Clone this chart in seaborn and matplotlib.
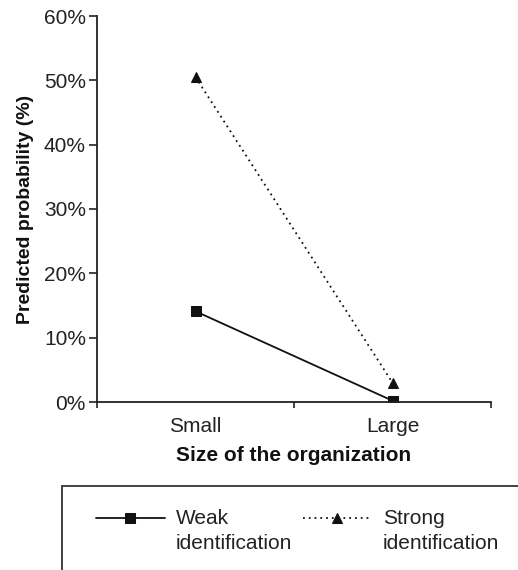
import matplotlib
matplotlib.use("Agg")
import matplotlib.pyplot as plt
from matplotlib.lines import Line2D
from matplotlib.legend_handler import HandlerLine2D
from matplotlib.patches import Rectangle
from matplotlib.ticker import FixedLocator, PercentFormatter
import numpy as np
import seaborn as sns
import pandas as pd

# data
sizes = ["Small", "Large"]
weak = [14.1, 0.2]
strong = [50.5, 3.0]
series_names = ["Weak\nidentification", "Strong\nidentification"]
y_ticks = [0, 10, 20, 30, 40, 50, 60]

df = pd.DataFrame({
    "size": sizes * 2,
    "prob": weak + strong,
    "group": [series_names[0]] * 2 + [series_names[1]] * 2,
})


class FirstLineHandler(HandlerLine2D):
    """Legend handle level with the first line of a two-line label."""
    def create_artists(self, legend, orig_handle, xdescent, ydescent, width, height, fontsize, trans):
        artists = super().create_artists(legend, orig_handle, xdescent, ydescent,
                                         width, height, fontsize, trans)
        for a in artists:
            a.set_ydata(np.asarray(a.get_ydata()) + 0.62 * fontsize)
        return artists


sns.set_style("white")
plt.rcParams["font.family"] = ["Liberation Sans", "DejaVu Sans"]

fig = plt.figure(figsize=(5.18, 5.70), dpi=100)
ax = fig.add_axes([97 / 518, 1 - 402 / 570, (491 - 97) / 518, (402 - 16) / 570])

sns.lineplot(
    data=df, x="size", y="prob", hue="group", style="group", sort=False,
    palette=["#111111", "#111111"],
    markers={series_names[0]: "s", series_names[1]: "^"},
    dashes={series_names[0]: "", series_names[1]: (1, 2.2)},
    markersize=7, linewidth=1.3, markeredgecolor="#111111",
    ax=ax, legend=True,
)

ax.set_xlim(-0.5, 1.5)
ax.set_ylim(0, 60)
ax.yaxis.set_major_locator(FixedLocator(y_ticks))
ax.yaxis.set_major_formatter(PercentFormatter(decimals=0))

# ticks at category boundaries, labels centred
ax.set_xticks([-0.5, 0.5, 1.5])
ax.set_xticklabels([])
ax.set_xticks([0, 1], minor=True)
ax.set_xticklabels(sizes, minor=True)
ax.tick_params(axis="x", which="major", direction="out", length=4, width=1.2, color="#222222", bottom=True)
ax.tick_params(axis="x", which="minor", length=0, labelsize=15, pad=11, labelcolor="#222222")
ax.tick_params(axis="y", direction="out", length=6, width=1.2, color="#222222", left=True,
               labelsize=15, labelcolor="#222222", pad=2)

for side in ["top", "right"]:
    ax.spines[side].set_visible(False)
for side in ["left", "bottom"]:
    ax.spines[side].set_color("#222222")
    ax.spines[side].set_linewidth(1.3)

ax.set_xlabel("Size of the organization", fontsize=15, fontweight="bold", color="#111111", labelpad=7)
ax.set_ylabel("Predicted probability (%)", fontsize=14, fontweight="bold", color="#111111", labelpad=7)

# legend below, in a box cut off by the figure edge
handles, labels = ax.get_legend_handles_labels()
ax.get_legend().remove()
fig.patches.append(Rectangle((62 / 518, -0.05), 0.95, 1 - 486 / 570 + 0.05,
                             transform=fig.transFigure, fill=False,
                             edgecolor="#333333", linewidth=1.3))
leg = fig.legend(handles, labels, loc="center left", bbox_to_anchor=(77 / 518, 1 - 531 / 570),
                 ncol=2, frameon=False, fontsize=15, handlelength=3.3, handletextpad=0.55,
                 columnspacing=0.5, labelcolor="#222222",
                 handler_map={Line2D: FirstLineHandler()})
for t in leg.get_texts():
    t.set_linespacing(1.35)

fig.savefig("out.png", dpi=100)
